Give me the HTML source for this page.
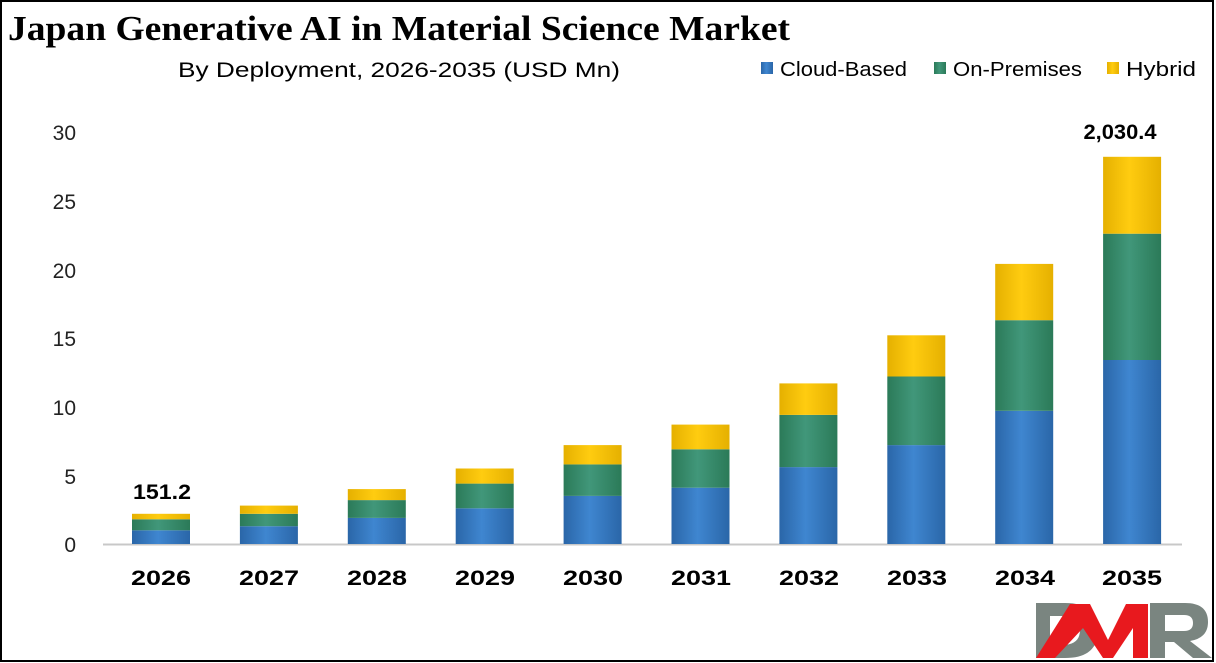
<!DOCTYPE html>
<html><head><style>
body{margin:0;background:#fff}
svg{display:block}
</style></head><body>
<svg width="1216" height="663" xmlns="http://www.w3.org/2000/svg" font-family="Liberation Sans, sans-serif">
<defs>
<linearGradient id="gb" x1="0" x2="1"><stop offset="0" stop-color="#2a66a8"/><stop offset="0.45" stop-color="#3f86d0"/><stop offset="1" stop-color="#2a66a8"/></linearGradient>
<linearGradient id="gg" x1="0" x2="1"><stop offset="0" stop-color="#2b7a58"/><stop offset="0.45" stop-color="#41977a"/><stop offset="1" stop-color="#2b7a58"/></linearGradient>
<linearGradient id="gy" x1="0" x2="1"><stop offset="0" stop-color="#e5b000"/><stop offset="0.45" stop-color="#ffcc10"/><stop offset="1" stop-color="#e5b000"/></linearGradient>
</defs>
<rect x="1" y="1" width="1212" height="660" fill="#fff" stroke="#000" stroke-width="2"/>
<text x="8" y="40" font-family="Liberation Serif, serif" font-weight="bold" font-size="35" textLength="782" lengthAdjust="spacingAndGlyphs">Japan Generative AI in Material Science Market</text>
<text x="178" y="77" font-size="21" textLength="442" lengthAdjust="spacingAndGlyphs">By Deployment, 2026-2035 (USD Mn)</text>
<rect x="761" y="62" width="12" height="12" fill="url(#gb)"/><text x="780" y="76" font-size="20" textLength="127" lengthAdjust="spacingAndGlyphs">Cloud-Based</text>
<rect x="934" y="62" width="12" height="12" fill="url(#gg)"/><text x="953" y="76" font-size="20" textLength="129" lengthAdjust="spacingAndGlyphs">On-Premises</text>
<rect x="1107" y="62" width="12" height="12" fill="url(#gy)"/><text x="1126" y="76" font-size="20" textLength="70" lengthAdjust="spacingAndGlyphs">Hybrid</text>
<g font-size="21" text-anchor="end" fill="#222">
<text x="76" y="552">0</text><text x="76" y="484">5</text><text x="76" y="415">10</text><text x="76" y="346">15</text><text x="76" y="278">20</text><text x="76" y="209">25</text><text x="76" y="140">30</text>
</g>
<line x1="103" y1="544.5" x2="1182" y2="544.5" stroke="#c8c8c8" stroke-width="2"/>
<g>
<rect x="132" y="530.3" width="58" height="13.7" fill="url(#gb)"/><rect x="132" y="519.3" width="58" height="11" fill="url(#gg)"/><rect x="132" y="513.8" width="58" height="5.5" fill="url(#gy)"/>
<rect x="239.9" y="526.2" width="58" height="17.8" fill="url(#gb)"/><rect x="239.9" y="513.8" width="58" height="12.4" fill="url(#gg)"/><rect x="239.9" y="505.6" width="58" height="8.2" fill="url(#gy)"/>
<rect x="347.8" y="517.9" width="58" height="26.1" fill="url(#gb)"/><rect x="347.8" y="500.1" width="58" height="17.8" fill="url(#gg)"/><rect x="347.8" y="489.1" width="58" height="11" fill="url(#gy)"/>
<rect x="455.7" y="508.3" width="58" height="35.7" fill="url(#gb)"/><rect x="455.7" y="483.6" width="58" height="24.7" fill="url(#gg)"/><rect x="455.7" y="468.5" width="58" height="15.1" fill="url(#gy)"/>
<rect x="563.6" y="495.9" width="58" height="48.1" fill="url(#gb)"/><rect x="563.6" y="464.4" width="58" height="31.5" fill="url(#gg)"/><rect x="563.6" y="445.1" width="58" height="19.3" fill="url(#gy)"/>
<rect x="671.5" y="487.7" width="58" height="56.3" fill="url(#gb)"/><rect x="671.5" y="449.3" width="58" height="38.4" fill="url(#gg)"/><rect x="671.5" y="424.6" width="58" height="24.7" fill="url(#gy)"/>
<rect x="779.4" y="467.1" width="58" height="76.9" fill="url(#gb)"/><rect x="779.4" y="414.9" width="58" height="52.2" fill="url(#gg)"/><rect x="779.4" y="383.4" width="58" height="31.5" fill="url(#gy)"/>
<rect x="887.3" y="445.1" width="58" height="98.9" fill="url(#gb)"/><rect x="887.3" y="376.5" width="58" height="68.6" fill="url(#gg)"/><rect x="887.3" y="335.3" width="58" height="41.2" fill="url(#gy)"/>
<rect x="995.2" y="410.8" width="58" height="133.2" fill="url(#gb)"/><rect x="995.2" y="320.2" width="58" height="90.6" fill="url(#gg)"/><rect x="995.2" y="263.9" width="58" height="56.3" fill="url(#gy)"/>
<rect x="1103.1" y="360" width="58" height="184" fill="url(#gb)"/><rect x="1103.1" y="233.7" width="58" height="126.3" fill="url(#gg)"/><rect x="1103.1" y="156.8" width="58" height="76.9" fill="url(#gy)"/>
</g>
<g font-size="21" font-weight="bold" text-anchor="middle">
<text x="161" y="585" textLength="60" lengthAdjust="spacingAndGlyphs">2026</text><text x="269" y="585" textLength="60" lengthAdjust="spacingAndGlyphs">2027</text><text x="377" y="585" textLength="60" lengthAdjust="spacingAndGlyphs">2028</text><text x="485" y="585" textLength="60" lengthAdjust="spacingAndGlyphs">2029</text><text x="593" y="585" textLength="60" lengthAdjust="spacingAndGlyphs">2030</text><text x="701" y="585" textLength="60" lengthAdjust="spacingAndGlyphs">2031</text><text x="809" y="585" textLength="60" lengthAdjust="spacingAndGlyphs">2032</text><text x="917" y="585" textLength="60" lengthAdjust="spacingAndGlyphs">2033</text><text x="1025" y="585" textLength="60" lengthAdjust="spacingAndGlyphs">2034</text><text x="1132" y="585" textLength="60" lengthAdjust="spacingAndGlyphs">2035</text>
<text x="162" y="499" textLength="58" lengthAdjust="spacingAndGlyphs">151.2</text><text x="1120" y="139" textLength="73" lengthAdjust="spacingAndGlyphs">2,030.4</text>
</g>
<g>
<path d="M1036 603 H1065 Q1098 603 1098 630 Q1098 658 1065 658 H1036 V645 H1062 Q1080 645 1080 630 Q1080 616 1062 616 H1050 V658 H1036Z" fill="#7a8580"/>
<path d="M1036 658 L1070 604 L1090 604 L1108 640 L1126 604 L1148 604 L1148 658 L1133 658 L1133 628 L1113 658 L1103 658 L1083 628 L1055 658Z" fill="#e8191e"/>
<path d="M1150 603 H1185 Q1208 603 1208 622 Q1208 638 1190 641 L1212 658 H1193 L1174 642 H1165 V658 H1150Z M1165 615 V631 H1184 Q1193 631 1193 623 Q1193 615 1184 615Z" fill="#7a8580"/>
</g>
</svg>
</body></html>
